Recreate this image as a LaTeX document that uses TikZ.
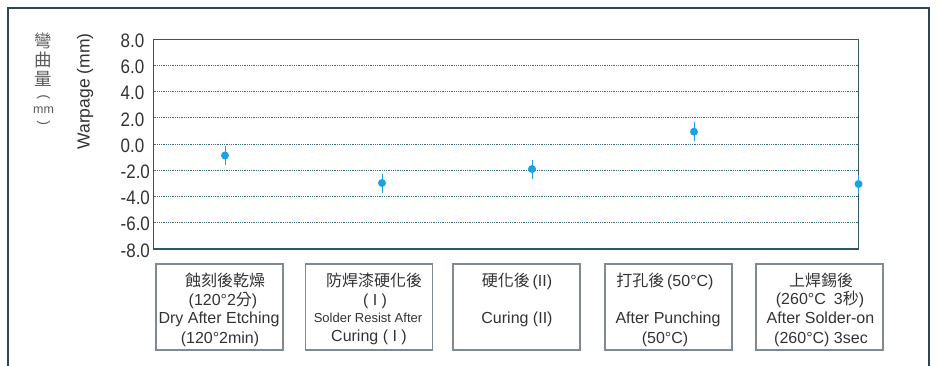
\documentclass[tikz,border=0pt]{standalone}
\usepackage{fontspec}
\setmainfont{Liberation Sans}
\newfontfamily\cjk{Noto Sans CJK TC}
\newfontfamily\numfont[FakeStretch=0.87]{Liberation Sans}
\definecolor{frame}{HTML}{2F4650}
\definecolor{plotframe}{HTML}{2E5866}
\definecolor{gridc}{HTML}{3D6E7D}
\definecolor{dotc}{HTML}{1AA3E0}
\definecolor{boxc}{HTML}{7D8A8F}
\definecolor{txt}{HTML}{333333}
\definecolor{ylab}{HTML}{5A5A5A}
\tikzset{
  lblbox/.style={draw=boxc, line width=1.3pt, minimum width=127pt, minimum height=86pt, inner sep=0pt},
  bt/.style={anchor=base, inner sep=0pt, text=txt, font=\fontsize{16}{18}\selectfont},
  bts/.style={anchor=base, inner sep=0pt, text=txt, font=\fontsize{13}{15}\selectfont},
  tick/.style={anchor=west, inner sep=0pt, text=txt, font=\numfont\fontsize{19.5}{21}\selectfont},
  gridl/.style={gridc, line width=0.9pt, dash pattern=on 1pt off 0.8pt},
  dotn/.style={circle, fill=dotc, inner sep=0pt, minimum size=8pt},
  ebar/.style={dotc, line width=1pt},
  vch/.style={inner sep=0pt, text=ylab, font=\cjk\fontsize{17.5}{17.5}\selectfont},
  vpar/.style={inner sep=0pt, text=ylab, rotate=90, font=\fontsize{14}{14}\selectfont}
}
\begin{document}
\begin{tikzpicture}[x=1pt,y=-1pt]
\useasboundingbox (0,0) rectangle (940,365);
% outer frame (open at bottom)
\draw[frame, line width=2pt] (8,366) -- (8,8) -- (928.5,8) -- (928.5,366);
% gridlines
\foreach \yy in {65.5,91.7,117.9,144.1,170.3,196.5,222.7}
  \draw[gridl] (153.5,\yy) -- (858.3,\yy);
% plot frame
\draw[plotframe, line width=1.2pt] (153.5,39.3) rectangle (858.3,248.9);
% tick labels
\foreach \v/\yy in {8.0/39.3,6.0/65.5,4.0/91.7,2.0/117.9,0.0/144.1,-2.0/170.3,-4.0/196.5,-6.0/222.7,-8.0/248.9}
  \node[tick] at (120.5,\yy+1.5) {\v};
% axis titles
\node[rotate=90, inner sep=0pt, text=txt, font=\fontsize{17.5}{19}\selectfont] (wt) at (85,91.5) {Warpage (mm)};
\node[vch] (c1) at (43.5,41) {彎};
\node[vch] (c2) at (43.5,60) {曲};
\node[vch] (c3) at (43.5,78.5) {量};
\node[vpar] (c4) at (43.5,97.5) {)};
\node[inner sep=0pt, text=ylab, font=\fontsize{12.5}{12.5}\selectfont] (c5) at (43.5,110) {mm};
\node[vpar] (c6) at (43.5,123) {(};
% data points with error bars
\foreach \n/\xx/\yy in {1/225/155.5,2/382/183,3/532/169,4/694/131.7,5/858.5/184}{
  \draw[ebar] (\xx,\yy-9.5) -- (\xx,\yy+9.5);
  \node[dotn] (p\n) at (\xx,\yy) {};
}
% label boxes
\node[lblbox] (b1) at (219.5,307) {};
\node[lblbox] (b2) at (369,307) {};
\node[lblbox] (b3) at (516.5,307) {};
\node[lblbox] (b4) at (668.5,307) {};
\node[lblbox] (b5) at (819.5,307) {};
% box texts
\node[bt] (t1a) at (225,286) {\cjk 蝕刻後乾燥};
\node[bt] (t1b) at (223,305) {(120°2{\cjk 分})};
\node[bt] (t1c) at (219,323) {Dry After Etching};
\node[bt] (t1d) at (220,343) {(120°2min)};
\node[bt] (t2a) at (374,286) {\cjk 防焊漆硬化後};
\node[bt] (t2b) at (375,305) {( I )};
\node[bts] (t2c) at (368,322) {Solder Resist After};
\node[bt] (t2d) at (369,341) {Curing ( I )};
\node[bt] (t3a) at (517,286) {{\cjk 硬化後}\,(II)};
\node[bt] (t3b) at (517,323) {Curing (II)};
\node[bt] (t4a) at (665,286) {{\cjk 打孔後}\,(50°C)};
\node[bt] (t4b) at (668,323) {After Punching};
\node[bt] (t4c) at (665,343) {(50°C)};
\node[bt] (t5a) at (821,286) {\cjk 上焊錫後};
\node[bt] (t5b) at (820,304) {(260°C\enspace 3{\cjk 秒})};
\node[bt] (t5c) at (820.5,323) {After Solder-on};
\node[bt] (t5d) at (821,343) {(260°C) 3sec};
\end{tikzpicture}
\end{document}
